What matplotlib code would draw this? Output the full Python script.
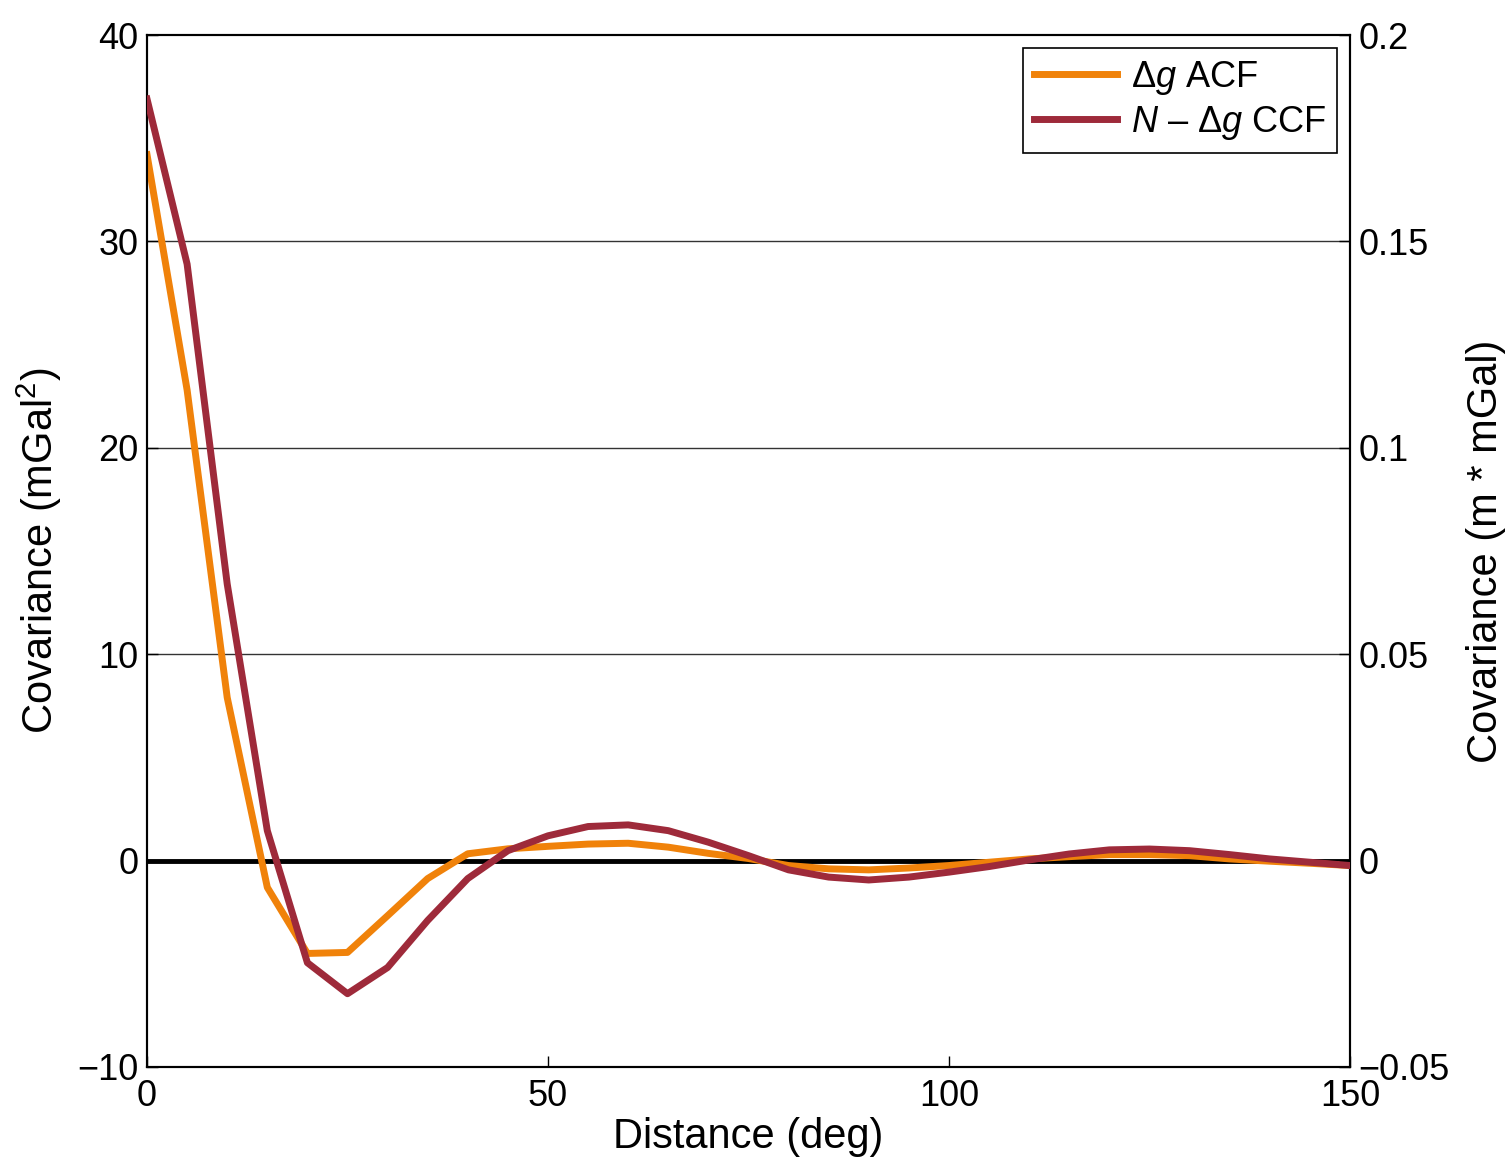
import matplotlib.pyplot as plt

plt.rcParams['font.family'] = ['Liberation Sans', 'DejaVu Sans']
plt.rcParams['mathtext.fontset'] = 'custom'
plt.rcParams['mathtext.rm'] = 'Liberation Sans'
plt.rcParams['mathtext.it'] = 'Liberation Sans:italic'

distance = list(range(0, 155, 5))

# gravity anomaly autocovariance (mGal^2), left axis
acf = [34.2, 22.8, 7.9, -1.3, -4.5, -4.45, -2.67, -0.87, 0.33, 0.57,
       0.69, 0.8, 0.84, 0.65, 0.35, 0.1, -0.24, -0.4, -0.45, -0.36,
       -0.24, -0.08, 0.08, 0.19, 0.29, 0.29, 0.24, 0.08, -0.03, -0.13, -0.24]

# geoid / gravity cross-covariance (m * mGal), right axis
ccf = [0.1845, 0.1445, 0.067, 0.00725, -0.02475, -0.03225, -0.0259, -0.0145,
       -0.00435, 0.0024, 0.006, 0.00825, 0.00865, 0.00725, 0.00445, 0.0012,
       -0.00225, -0.004, -0.0047, -0.004, -0.0028, -0.00145, 0.00015, 0.0016,
       0.0026, 0.0028, 0.0024, 0.00145, 0.0004, -0.0004, -0.0012]

left_ticks = [-10, 0, 10, 20, 30, 40]
left_labels = ['\u221210', '0', '10', '20', '30', '40']
right_ticks = [-0.05, 0, 0.05, 0.1, 0.15, 0.2]
right_labels = ['\u22120.05', '0', '0.05', '0.1', '0.15', '0.2']
x_ticks = [0, 50, 100, 150]

orange = '#F0820A'
darkred = '#9E2A3A'

fig = plt.figure(figsize=(15.11, 11.68), dpi=100)
ax = fig.add_axes([0.0973, 0.0865, 0.7961, 0.8835])
ax2 = ax.twinx()

for y in [10, 20, 30]:
    ax.axhline(y, color='#333333', lw=1.0, zorder=0)
ax.axhline(0, color='black', lw=3.5, zorder=1)

l1, = ax.plot(distance, acf, color=orange, lw=5, zorder=3, label=r'$\Delta g$ ACF')
l2, = ax2.plot(distance, ccf, color=darkred, lw=5, zorder=3,
               label='$N$ \u2013 $\\Delta g$ CCF')

ax.set_xlim(0, 150)
ax.set_ylim(-10, 40)
ax2.set_ylim(-0.05, 0.2)

ax.set_xticks(x_ticks)
ax.set_xticklabels([str(v) for v in x_ticks])
ax.set_yticks(left_ticks)
ax.set_yticklabels(left_labels)
ax2.set_yticks(right_ticks)
ax2.set_yticklabels(right_labels)

ax.tick_params(direction='in', length=8, width=1, labelsize=26, pad=6)
ax2.tick_params(direction='in', length=8, width=1, labelsize=26, pad=6)
ax.tick_params(axis='x', pad=9)

for a in (ax, ax2):
    for s in a.spines.values():
        s.set_linewidth(1.5)

ax.set_xlabel('Distance (deg)', fontsize=30, labelpad=2)
ax.set_ylabel('Covariance (mGal$^2$)', fontsize=30, labelpad=10)
ax2.set_ylabel('Covariance (m * mGal)', fontsize=30, labelpad=12)

leg = ax2.legend(handles=[l1, l2], loc='upper right', fontsize=26,
                 fancybox=False, edgecolor='black', framealpha=1,
                 handlelength=2.3, borderaxespad=0.35, handletextpad=0.4,
                 labelspacing=0.2, borderpad=0.3)
leg.get_frame().set_linewidth(1.2)

fig.savefig('out.png', dpi=100)
